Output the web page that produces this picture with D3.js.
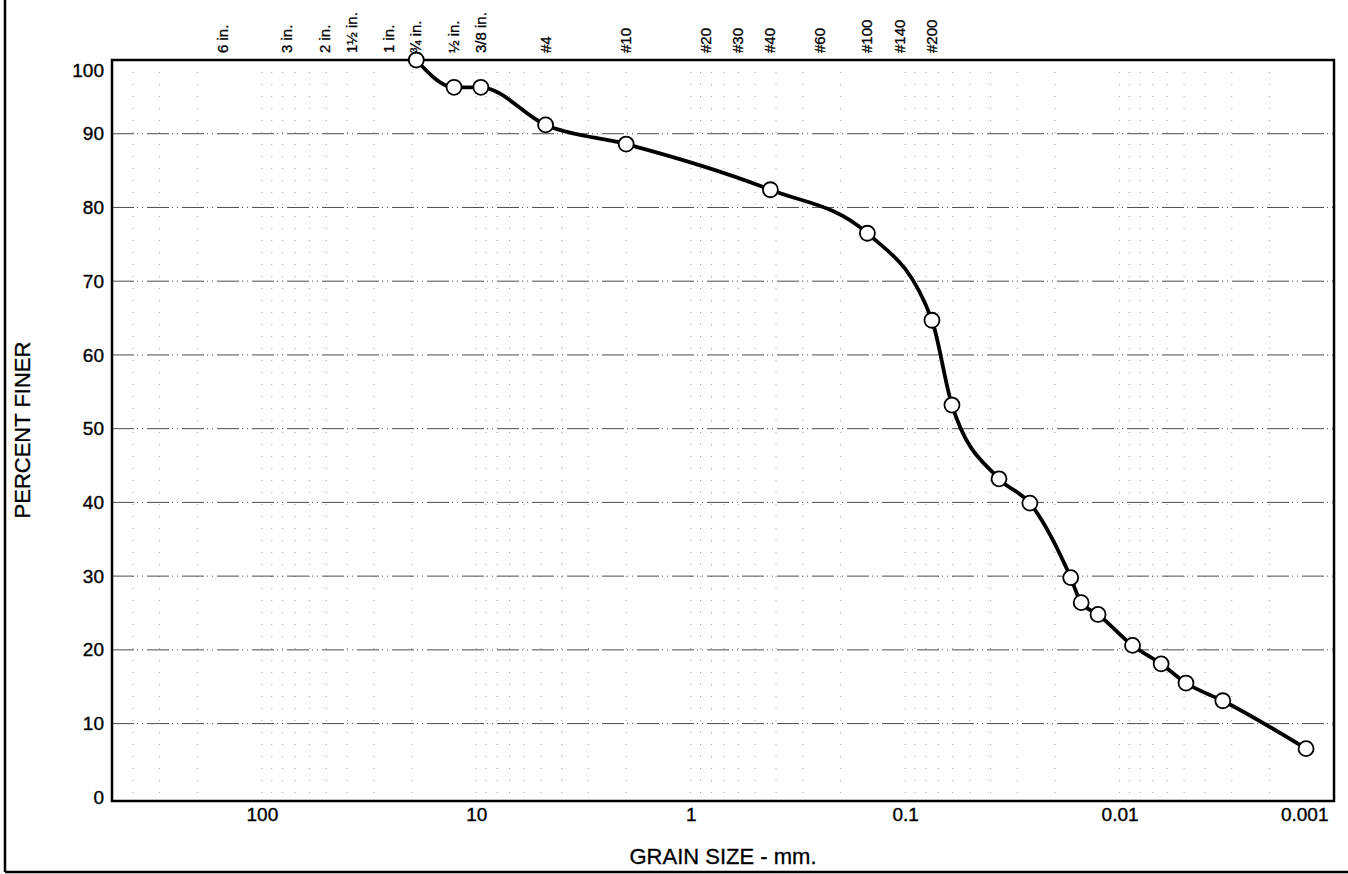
<!DOCTYPE html>
<html lang="en">
<head>
    <meta charset="UTF-8">
    <title>Grain Size Distribution</title>
    <style>
        body {
            margin: 0;
            background: #fff;
            font-family: 'Liberation Sans', Arial, sans-serif;
        }
        svg { display: block; }
        .tick-label { font-size: 19px; fill: #000; stroke: #000; stroke-width: 0.35px; }
        .sieve-label { font-size: 15px; fill: #000; stroke: #000; stroke-width: 0.3px; }
        .axis-title { font-size: 22px; fill: #000; stroke: #000; stroke-width: 0.3px; }
        .grid-h { stroke: #111; stroke-width: 1; stroke-dasharray: 22,3,1,4,1,4; opacity: 0.75; }
        .grid-v { stroke: #111; stroke-width: 1; stroke-dasharray: 1,11; opacity: 0.4; }
    </style>
</head>
<body>
<div id="chart"></div>
<script src="https://d3js.org/d3.v7.min.js"></script>
<script>
    // sieve openings along the top (mm)
    const sieveLabels = ["6 in.", "3 in.", "2 in.", "1½ in.", "1 in.", "¾ in.", "½ in.", "3/8 in.",
        "#4", "#10", "#20", "#30", "#40", "#60", "#100", "#140", "#200"];
    const sieveSizes = [152.4, 76.2, 50.8, 38.1, 25.4, 19.05, 12.7, 9.525,
        4.75, 2.0, 0.85, 0.6, 0.425, 0.25, 0.15, 0.106, 0.075];

    // measured grading curve
    const grainSize = [19.05, 12.7, 9.525, 4.75, 2.0, 0.425, 0.15, 0.075, 0.0605, 0.0365,
        0.0262, 0.0169, 0.0151, 0.0126, 0.0087, 0.0064, 0.0049, 0.0033, 0.00135];
    const percentFiner = [100, 96.3, 96.3, 91.2, 88.6, 82.4, 76.5, 64.7, 53.2, 43.2,
        39.9, 29.8, 26.4, 24.8, 20.6, 18.1, 15.5, 13.1, 6.6];

    const xTicks = [100, 10, 1, 0.1, 0.01, 0.001];
    const xTickLabels = ["100", "10", "1", "0.1", "0.01", "0.001"];
    const yTicks = [0, 10, 20, 30, 40, 50, 60, 70, 80, 90, 100];

    const W = 1348, H = 874;
    const plot = { left: 112, right: 1334, top: 60, bottom: 801 };

    const svg = d3.select('#chart').append('svg')
        .attr('width', W)
        .attr('height', H);

    const x = d3.scaleLog()
        .domain([500, 0.001])
        .range([plot.left, plot.right]);

    const y = d3.scaleLinear()
        .domain([-0.5, 100])
        .range([plot.bottom, plot.top]);

    // outer page frame (left + bottom only, like the scan)
    svg.append('line').attr('x1', 5).attr('x2', 5).attr('y1', 0).attr('y2', 872)
        .attr('stroke', '#000').attr('stroke-width', 2.5);
    svg.append('line').attr('x1', 5).attr('x2', W).attr('y1', 872).attr('y2', 872)
        .attr('stroke', '#000').attr('stroke-width', 2.5);

    // vertical minor grid
    const minor = [];
    for (let e = -3; e <= 2; e++) {
        for (let m = 1; m <= 9; m++) {
            const v = m * Math.pow(10, e);
            if (v <= 500 && v >= 0.001) minor.push(v);
        }
    }
    svg.append('g').selectAll('line')
        .data(minor)
        .join('line')
        .attr('class', 'grid-v')
        .attr('x1', d => x(d)).attr('x2', d => x(d))
        .attr('y1', plot.top).attr('y2', plot.bottom);

    // horizontal grid
    svg.append('g').selectAll('line')
        .data(yTicks.filter(d => d > 0 && d < 100))
        .join('line')
        .attr('class', 'grid-h')
        .attr('x1', plot.left).attr('x2', plot.right)
        .attr('y1', d => y(d)).attr('y2', d => y(d));

    // y axis labels
    const yAxis = d3.axisLeft(y).tickValues(yTicks).tickSize(0).tickPadding(8);
    const gy = svg.append('g')
        .attr('transform', `translate(${plot.left},0)`)
        .call(yAxis);
    gy.select('.domain').remove();
    gy.selectAll('text').attr('class', 'tick-label').attr('font-family', null).attr('font-size', null);
    // top label sits a bit lower, inside the frame
    gy.selectAll('.tick').filter(d => d === 100).select('text').attr('dy', '0.85em');

    // x axis labels
    const xAxis = d3.axisBottom(x).tickValues(xTicks).tickSize(0).tickPadding(7)
        .tickFormat((d, i) => xTickLabels[i]);
    const gx = svg.append('g')
        .attr('transform', `translate(0,${plot.bottom})`)
        .call(xAxis);
    gx.select('.domain').remove();
    gx.selectAll('text').attr('class', 'tick-label').attr('font-family', null).attr('font-size', null);
    // last label kept inside the frame
    gx.selectAll('.tick').filter(d => d === 0.001).select('text')
        .attr('text-anchor', 'end').attr('dx', -6);

    // sieve labels on top
    svg.append('g').selectAll('text')
        .data(sieveSizes)
        .join('text')
        .attr('class', 'sieve-label')
        .attr('transform', d => `translate(${x(d) + 5},53) rotate(-90)`)
        .attr('text-anchor', 'start')
        .text((d, i) => sieveLabels[i]);

    // plot frame
    svg.append('rect')
        .attr('x', plot.left).attr('y', plot.top)
        .attr('width', plot.right - plot.left)
        .attr('height', plot.bottom - plot.top)
        .attr('fill', 'none')
        .attr('stroke', '#000')
        .attr('stroke-width', 2.5);

    // grading curve
    const pts = grainSize.map((g, i) => [x(g), y(percentFiner[i])]);
    svg.append('path')
        .attr('d', d3.line().curve(d3.curveMonotoneX)(pts))
        .attr('fill', 'none')
        .attr('stroke', '#000')
        .attr('stroke-width', 3.8);

    svg.append('g').selectAll('circle')
        .data(pts)
        .join('circle')
        .attr('cx', d => d[0])
        .attr('cy', d => d[1])
        .attr('r', 7.5)
        .attr('fill', '#fff')
        .attr('stroke', '#000')
        .attr('stroke-width', 1.8);

    // axis titles
    svg.append('text')
        .attr('class', 'axis-title')
        .attr('transform', 'translate(30,430) rotate(-90)')
        .attr('text-anchor', 'middle')
        .text('PERCENT FINER');

    svg.append('text')
        .attr('class', 'axis-title')
        .attr('x', 723).attr('y', 864)
        .attr('text-anchor', 'middle')
        .text('GRAIN SIZE - mm.');
</script>
</body>
</html>
